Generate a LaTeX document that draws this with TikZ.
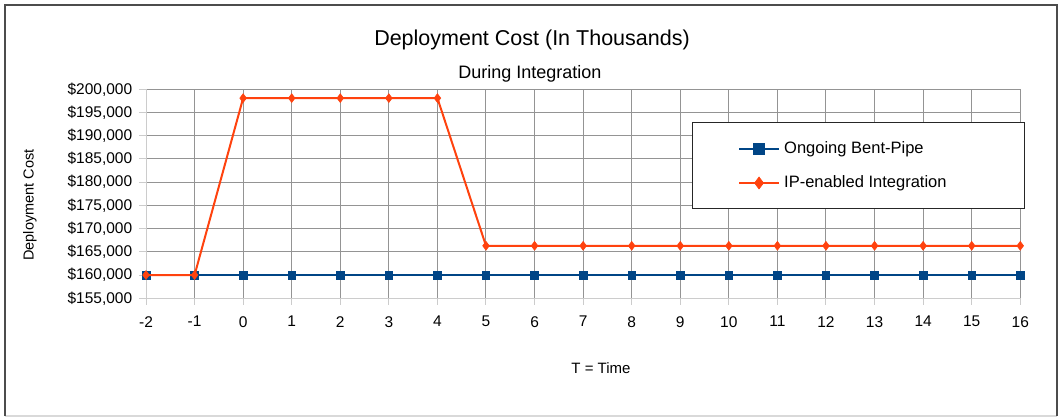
\documentclass[tikz,border=0pt]{standalone}
\usepackage{fontspec}
\setmainfont{Liberation Sans}
\usetikzlibrary{plotmarks}

\definecolor{bentblue}{HTML}{004586}
\definecolor{iporange}{HTML}{FF420E}

\tikzset{
  gridline/.style={black!42,line width=1pt},
  axisline/.style={black!20,line width=1pt},
  bentpipe/.style={bentblue,line width=2.4pt,mark=square*,mark size=3.8pt,
    mark options={line width=0.6pt,fill=bentblue}},
  ipline/.style={iporange,line width=2pt,mark=diamond*,mark size=4.4pt,
    mark options={line width=0.6pt,fill=iporange}},
  ticklabel/.style={font=\fontsize{15.5}{18}\selectfont,inner sep=0pt,text=black},
  legendtext/.style={font=\fontsize{16.5}{19}\selectfont,inner sep=0pt,anchor=west}
}

\begin{document}
\begin{tikzpicture}[x=1pt,y=-1pt]
  \path[use as bounding box] (0,0) rectangle (1061,417);
  % outer frame
  \draw[black!15,line width=1.5pt] (5,416) -- (1057,416);
  \draw[black!70,line width=2.5pt] (5,416) -- (5,5) -- (1057,5) -- (1057,416);

  \node[font=\fontsize{21.5}{24}\selectfont] (title) at (532,40) {Deployment Cost (In Thousands)};
  \node[font=\fontsize{18}{20}\selectfont] (subtitle) at (530,74) {During Integration};
  \node[rotate=90,font=\fontsize{14.5}{16}\selectfont] (ylabel) at (30,205) {Deployment Cost};
  \node[font=\fontsize{15}{17}\selectfont] (xlabel) at (601,368) {T = Time};

  \begin{scope}[xshift=243.14pt,yshift=-1018.1pt,x=48.57pt,y=4.644pt]
    \draw[gridline,xstep=1,ystep=5] (-2.01,154.99) grid (16.01,200.01);
    \draw[axisline] (-2,200) -- (-2,155) -- (16,155);
    \foreach \v in {155,160,...,200}
      \draw[axisline] (-2,\v) -- (-2.15,\v) node[ticklabel,anchor=east,xshift=-6pt] (ytick\v) {\$\v,000};
    \foreach \t in {-2,...,16}
      \draw[axisline] (\t,155) -- (\t,153.5) node[ticklabel,anchor=north,yshift=-10.5pt] (xtick\t) {\t};

    \draw[bentpipe] plot[samples at={-2,...,16}] (\x,160);
    \draw[ipline] plot coordinates {(-2,160) (-1,160) (0,198.1) (1,198.1) (2,198.1) (3,198.1)
      (4,198.1) (5,166.3) (6,166.3) (7,166.3) (8,166.3) (9,166.3) (10,166.3) (11,166.3)
      (12,166.3) (13,166.3) (14,166.3) (15,166.3) (16,166.3)};
  \end{scope}

  % legend
  \draw[black!85,line width=1pt,fill=white] (692,123) rectangle (1024,209);
  \draw[bentpipe] (739,149) -- (779,149);
  \draw[bentpipe,mark size=5.3pt,only marks] plot coordinates {(759,149)};
  \node[legendtext] (lgbent) at (784,149) {Ongoing Bent-Pipe};
  \draw[ipline] (739,183) -- (779,183);
  \draw[ipline,mark size=6pt,only marks] plot coordinates {(759,183)};
  \node[legendtext] (lgip) at (784,183) {IP-enabled Integration};
\end{tikzpicture}
\end{document}
